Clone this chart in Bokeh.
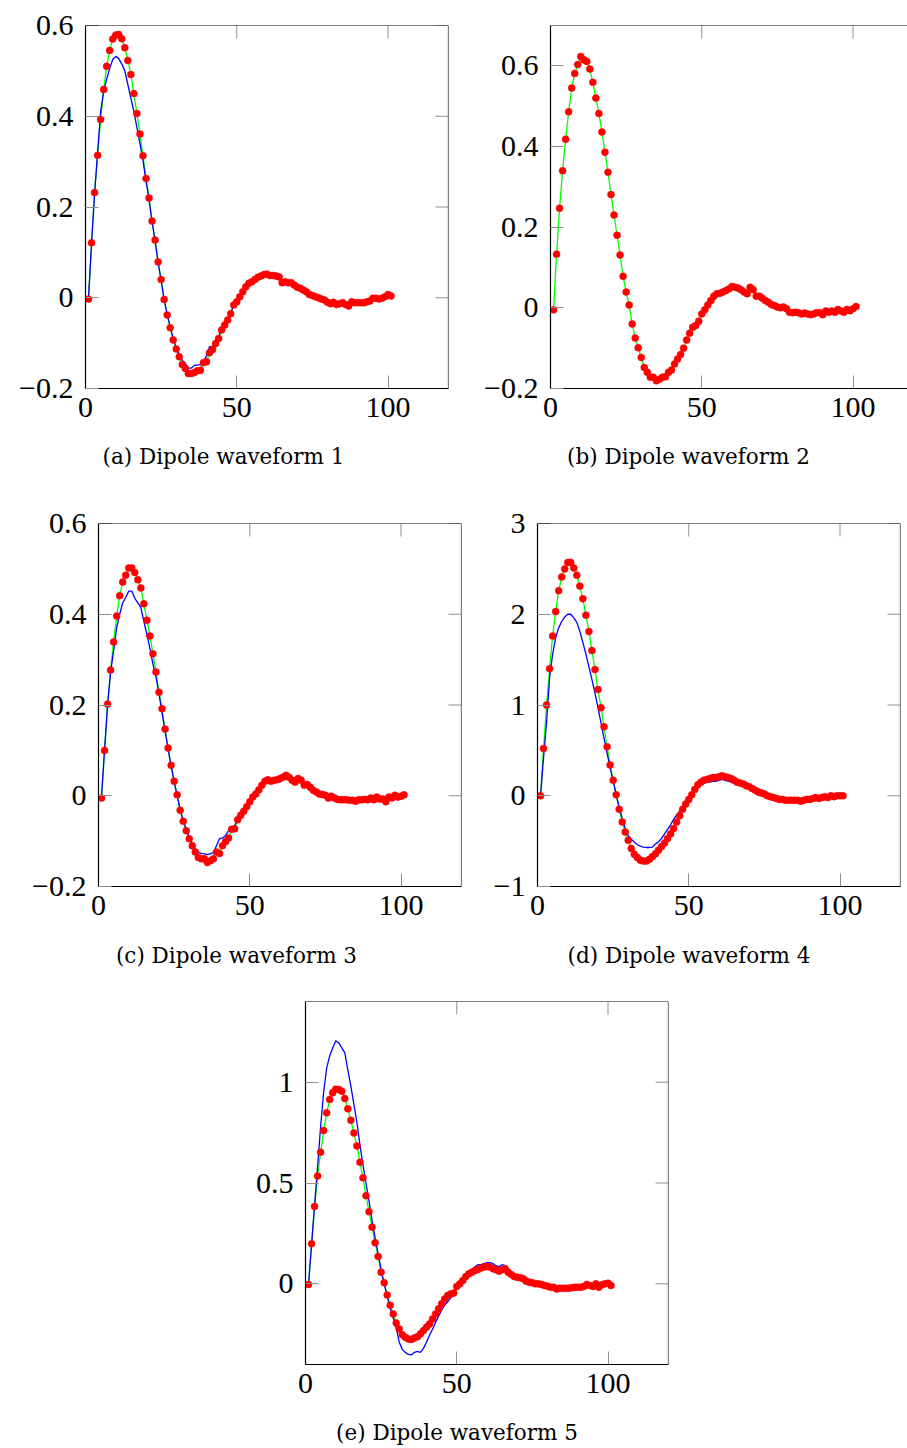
from bokeh.plotting import figure
from bokeh.layouts import column, row, Spacer
from bokeh.models import (Range1d, FixedTicker, LinearAxis, Span,
                          CustomJSTickFormatter, ColumnDataSource)
from bokeh.core.properties import value
from bokeh.embed import file_html
from bokeh.resources import INLINE

# ---------------- data ----------------
samples = list(range(1, 102))

red_1 = [
    -0.003, 0.121, 0.232, 0.314, 0.393, 0.459, 0.510, 0.545, 0.570, 0.579,
    0.580, 0.571, 0.551, 0.523, 0.492, 0.450, 0.406, 0.361, 0.313, 0.263,
    0.220, 0.169, 0.127, 0.079, 0.040, -0.004, -0.038, -0.066, -0.093, -0.113,
    -0.130, -0.147, -0.156, -0.167, -0.167, -0.165, -0.161, -0.160, -0.143, -0.141,
    -0.121, -0.114, -0.101, -0.090, -0.071, -0.060, -0.049, -0.035, -0.016, -0.009,
    0.002, 0.013, 0.024, 0.032, 0.035, 0.040, 0.045, 0.048, 0.051, 0.052,
    0.049, 0.049, 0.048, 0.046, 0.033, 0.035, 0.033, 0.033, 0.028, 0.023,
    0.021, 0.017, 0.013, 0.007, 0.005, 0.002, 0.000, -0.003, -0.005, -0.010,
    -0.013, -0.010, -0.015, -0.013, -0.011, -0.015, -0.018, -0.009, -0.011, -0.011,
    -0.011, -0.011, -0.009, -0.007, -0.001, -0.001, -0.003, -0.001, 0.002, 0.007,
    0.004]
blue_1 = [
    0.000, 0.120, 0.228, 0.320, 0.410, 0.455, 0.482, 0.505, 0.525, 0.532,
    0.527, 0.515, 0.500, 0.470, 0.440, 0.410, 0.375, 0.340, 0.302, 0.258,
    0.216, 0.168, 0.125, 0.078, 0.038, -0.004, -0.036, -0.064, -0.090, -0.110,
    -0.125, -0.138, -0.145, -0.155, -0.155, -0.149, -0.148, -0.148, -0.140, -0.128,
    -0.108, -0.108, -0.095, -0.085, -0.070, -0.058, -0.047, -0.033, -0.017, -0.008,
    0.003, 0.014, 0.025, 0.032, 0.036, 0.040, 0.044, 0.046, 0.048, 0.047,
    0.043, 0.046, 0.046, 0.044, 0.034, 0.035, 0.031, 0.033, 0.027, 0.023,
    0.021, 0.017, 0.013, 0.008, 0.005, 0.002, 0.000, -0.003, -0.006, -0.010,
    -0.012, -0.011, -0.014, -0.013, -0.012, -0.015, -0.017, -0.010, -0.011, -0.011,
    -0.011, -0.010, -0.009, -0.007, -0.002, -0.001, -0.003, -0.001, 0.002, 0.006,
    0.004]

red_2 = [
    -0.005, 0.133, 0.247, 0.340, 0.418, 0.486, 0.545, 0.581, 0.603, 0.623,
    0.615, 0.611, 0.592, 0.559, 0.520, 0.482, 0.436, 0.386, 0.336, 0.281,
    0.230, 0.180, 0.131, 0.078, 0.039, 0.007, -0.040, -0.075, -0.099, -0.123,
    -0.148, -0.160, -0.172, -0.172, -0.181, -0.177, -0.172, -0.171, -0.160, -0.154,
    -0.139, -0.127, -0.116, -0.100, -0.080, -0.063, -0.048, -0.044, -0.033, -0.015,
    -0.005, 0.007, 0.018, 0.029, 0.035, 0.036, 0.039, 0.043, 0.047, 0.053,
    0.051, 0.049, 0.045, 0.039, 0.035, 0.051, 0.045, 0.029, 0.029, 0.024,
    0.018, 0.014, 0.008, 0.006, 0.002, 0.000, 0.002, -0.002, -0.011, -0.012,
    -0.011, -0.012, -0.015, -0.013, -0.015, -0.017, -0.015, -0.012, -0.012, -0.017,
    -0.008, -0.011, -0.008, -0.011, -0.004, -0.008, -0.011, -0.004, -0.007, -0.002,
    0.003]

red_3 = [
    -0.005, 0.100, 0.202, 0.277, 0.339, 0.396, 0.441, 0.471, 0.486, 0.502,
    0.502, 0.492, 0.476, 0.458, 0.423, 0.387, 0.352, 0.313, 0.273, 0.228,
    0.192, 0.147, 0.105, 0.067, 0.032, 0.002, -0.032, -0.056, -0.077, -0.095,
    -0.110, -0.124, -0.136, -0.139, -0.139, -0.147, -0.143, -0.139, -0.124, -0.127,
    -0.110, -0.101, -0.093, -0.074, -0.073, -0.053, -0.043, -0.034, -0.024, -0.013,
    -0.003, 0.004, 0.013, 0.023, 0.032, 0.035, 0.032, 0.034, 0.035, 0.038,
    0.041, 0.045, 0.041, 0.034, 0.030, 0.038, 0.034, 0.023, 0.025, 0.019,
    0.012, 0.008, 0.004, 0.003, 0.001, -0.005, -0.001, -0.005, -0.008, -0.009,
    -0.009, -0.009, -0.010, -0.010, -0.012, -0.009, -0.009, -0.008, -0.009, -0.005,
    -0.009, -0.003, -0.007, -0.007, -0.013, -0.003, -0.005, 0.001, -0.003, -0.001,
    0.002]
blue_3 = [
    0.000, 0.100, 0.200, 0.272, 0.320, 0.370, 0.400, 0.425, 0.437, 0.451,
    0.451, 0.435, 0.425, 0.415, 0.384, 0.355, 0.325, 0.290, 0.262, 0.225,
    0.182, 0.143, 0.103, 0.066, 0.031, 0.001, -0.031, -0.054, -0.074, -0.092,
    -0.106, -0.118, -0.125, -0.127, -0.128, -0.130, -0.128, -0.125, -0.110, -0.095,
    -0.093, -0.088, -0.077, -0.070, -0.066, -0.052, -0.042, -0.033, -0.023, -0.012,
    -0.003, 0.004, 0.013, 0.022, 0.030, 0.033, 0.031, 0.032, 0.032, 0.030,
    0.037, 0.043, 0.040, 0.033, 0.030, 0.036, 0.033, 0.023, 0.025, 0.019,
    0.012, 0.008, 0.004, 0.003, 0.001, -0.004, -0.001, -0.005, -0.008, -0.009,
    -0.009, -0.009, -0.010, -0.010, -0.011, -0.009, -0.009, -0.008, -0.009, -0.005,
    -0.008, -0.004, -0.007, -0.007, -0.012, -0.003, -0.005, 0.001, -0.003, -0.001,
    0.002]

red_4 = [
    0.00, 0.52, 1.00, 1.40, 1.76, 2.03, 2.26, 2.41, 2.50, 2.57,
    2.57, 2.51, 2.43, 2.31, 2.17, 1.99, 1.81, 1.60, 1.39, 1.17,
    0.97, 0.76, 0.54, 0.34, 0.17, 0.01, -0.15, -0.29, -0.40, -0.49,
    -0.58, -0.645, -0.68, -0.71, -0.72, -0.72, -0.70, -0.67, -0.64, -0.60,
    -0.56, -0.52, -0.47, -0.42, -0.36, -0.29, -0.22, -0.15, -0.09, -0.04,
    0.01, 0.07, 0.12, 0.15, 0.17, 0.18, 0.19, 0.20, 0.20, 0.21,
    0.22, 0.21, 0.20, 0.19, 0.17, 0.15, 0.14, 0.13, 0.11, 0.10,
    0.08, 0.06, 0.04, 0.03, 0.02, 0.00, -0.01, -0.02, -0.03, -0.04,
    -0.04, -0.05, -0.05, -0.05, -0.05, -0.05, -0.06, -0.05, -0.04, -0.04,
    -0.03, -0.02, -0.03, -0.02, -0.01, -0.02, 0.00, -0.01, 0.00, 0.00,
    0.00]
blue_4 = [
    0.00, 0.42, 0.81, 1.30, 1.56, 1.74, 1.85, 1.92, 1.97, 2.00,
    2.00, 1.96, 1.91, 1.81, 1.69, 1.56, 1.42, 1.28, 1.13, 0.97,
    0.80, 0.63, 0.47, 0.31, 0.16, 0.02, -0.13, -0.25, -0.36, -0.44,
    -0.48, -0.51, -0.54, -0.555, -0.565, -0.57, -0.57, -0.565, -0.53, -0.51,
    -0.47, -0.42, -0.37, -0.32, -0.26, -0.21, -0.17, -0.12, -0.07, -0.03,
    0.01, 0.05, 0.09, 0.12, 0.14, 0.15, 0.15, 0.16, 0.16, 0.17,
    0.18, 0.17, 0.16, 0.15, 0.14, 0.13, 0.12, 0.11, 0.10, 0.09,
    0.08, 0.06, 0.04, 0.03, 0.02, 0.00, -0.01, -0.02, -0.03, -0.04,
    -0.04, -0.05, -0.05, -0.05, -0.05, -0.05, -0.06, -0.05, -0.04, -0.04,
    -0.03, -0.02, -0.03, -0.02, -0.01, -0.02, 0.00, -0.01, 0.00, 0.00,
    0.00]

red_5 = [
    -0.003, 0.199, 0.384, 0.535, 0.652, 0.760, 0.848, 0.914, 0.947, 0.965,
    0.964, 0.955, 0.919, 0.868, 0.811, 0.748, 0.684, 0.603, 0.526, 0.437,
    0.358, 0.281, 0.204, 0.136, 0.058, 0.005, -0.055, -0.106, -0.149, -0.194,
    -0.224, -0.253, -0.265, -0.273, -0.276, -0.268, -0.262, -0.248, -0.232, -0.215,
    -0.199, -0.174, -0.149, -0.124, -0.099, -0.075, -0.058, -0.050, -0.046, -0.013,
    0.000, 0.017, 0.036, 0.050, 0.058, 0.066, 0.071, 0.078, 0.083, 0.086,
    0.083, 0.075, 0.070, 0.063, 0.070, 0.075, 0.058, 0.046, 0.036, 0.033,
    0.030, 0.025, 0.013, 0.008, 0.005, 0.000, 0.000, -0.003, -0.008, -0.012,
    -0.017, -0.017, -0.025, -0.022, -0.022, -0.022, -0.022, -0.020, -0.017, -0.017,
    -0.017, -0.013, -0.003, -0.008, -0.013, 0.000, -0.017, -0.005, 0.000, 0.003,
    -0.008]
blue_5 = [
    0.000, 0.190, 0.390, 0.580, 0.780, 0.950, 1.070, 1.130, 1.170, 1.205,
    1.195, 1.170, 1.145, 1.060, 0.980, 0.890, 0.800, 0.690, 0.590, 0.500,
    0.410, 0.315, 0.230, 0.150, 0.070, 0.000, -0.060, -0.120, -0.170, -0.220,
    -0.290, -0.325, -0.340, -0.350, -0.352, -0.340, -0.335, -0.340, -0.320, -0.290,
    -0.255, -0.225, -0.190, -0.160, -0.130, -0.105, -0.090, -0.070, -0.045, -0.025,
    -0.005, 0.015, 0.035, 0.050, 0.065, 0.085, 0.095, 0.095, 0.100, 0.105,
    0.105, 0.100, 0.090, 0.085, 0.095, 0.090, 0.070, 0.050, 0.038, 0.033,
    0.030, 0.025, 0.013, 0.008, 0.005, 0.000, 0.000, -0.003, -0.008, -0.012,
    -0.017, -0.017, -0.025, -0.022, -0.022, -0.022, -0.022, -0.020, -0.017, -0.017,
    -0.017, -0.013, -0.003, -0.008, -0.013, 0.000, -0.017, -0.005, 0.000, 0.003,
    -0.008]

x_ticks = [0, 50, 100]
y_ticks_1 = [-0.2, 0, 0.2, 0.4, 0.6]
y_ticks_2 = [-0.2, 0, 0.2, 0.4, 0.6]
y_ticks_3 = [-0.2, 0, 0.2, 0.4, 0.6]
y_ticks_4 = [-1, 0, 1, 2, 3]
y_ticks_5 = [0, 0.5, 1]

captions = ["(a) Dipole waveform 1", "(b) Dipole waveform 2",
            "(c) Dipole waveform 3", "(d) Dipole waveform 4",
            "(e) Dipole waveform 5"]

# ---------------- styling ----------------
TICK_FONT = "Liberation Serif"
TICK_SIZE = "30px"
CAP_FONT = "DejaVu Serif"
CAP_SIZE = "21.5px"
FRAME = 363
X_FULL = 120.0
TICK_LEN = 13
TICK_COLOR = "#909090"
PLOT_BOTTOM = 50


def minus_formatter():
    return CustomJSTickFormatter(
        code="return (tick < 0 ? '\\u2212' : '') + String(Math.abs(tick));")


def make_axis(ticks, standoff):
    ax = LinearAxis(ticker=FixedTicker(ticks=ticks, minor_ticks=[]),
                    formatter=minus_formatter())
    ax.major_tick_in = TICK_LEN
    ax.major_tick_out = 0
    ax.major_tick_line_color = TICK_COLOR
    ax.major_tick_line_width = 1
    ax.minor_tick_line_color = None
    ax.axis_line_color = "black"
    ax.axis_line_width = 1.2
    ax.major_label_text_font = TICK_FONT
    ax.major_label_text_font_size = TICK_SIZE
    ax.major_label_text_color = "black"
    ax.major_label_standoff = standoff
    return ax


def panel(red, blue, y0, y1, yticks, frame_w, bl, br, bt, right_side=True):
    x1 = X_FULL * frame_w / FRAME
    p = figure(frame_width=frame_w, frame_height=FRAME,
               min_border_left=bl, min_border_right=br,
               min_border_top=bt, min_border_bottom=PLOT_BOTTOM,
               x_range=Range1d(0, x1), y_range=Range1d(y0, y1),
               x_axis_location=None, y_axis_location=None,
               output_backend="svg", toolbar_location=None)
    p.outline_line_color = None
    p.grid.visible = False
    p.background_fill_color = "white"
    p.border_fill_color = "white"

    p.add_layout(make_axis(yticks, 12), "left")
    p.add_layout(make_axis(x_ticks, 9), "below")

    # top (and right) border with inward ticks
    dy = TICK_LEN * (y1 - y0) / FRAME
    dx = TICK_LEN * x1 / frame_w
    p.add_layout(Span(location=y1, dimension="width", line_color="black",
                      line_width=1.2))
    p.segment(x0=x_ticks, y0=[y1] * len(x_ticks), x1=x_ticks,
              y1=[y1 - dy] * len(x_ticks), line_color=TICK_COLOR, line_width=1)
    if right_side:
        p.add_layout(Span(location=x1, dimension="height", line_color="black",
                          line_width=1.2))
        p.segment(x0=[x1] * len(yticks), y0=yticks, x1=[x1 - dx] * len(yticks),
                  y1=yticks, line_color=TICK_COLOR, line_width=1)

    src = ColumnDataSource(dict(x=samples, y=red))
    p.line("x", "y", source=src, line_color="#00ff00", line_width=1.3)
    if blue is not None:
        bsrc = ColumnDataSource(dict(x=samples, y=blue))
        p.line("x", "y", source=bsrc, line_color="#0000ff", line_width=1.3)
    p.scatter("x", "y", source=src, size=7, fill_color="#ff0000",
              line_color="#ff0000", line_width=0.5)
    return p


def caption_fig(text, width, height, frame_left, frame_w, cx, cy_from_top):
    # in a column Bokeh aligns this figure's frame with the plot above it,
    # so the x range spans the same canvas pixels as that frame
    c = figure(width=width, height=height, min_border=0,
               x_range=Range1d(frame_left, frame_left + frame_w),
               y_range=Range1d(0, height),
               x_axis_location=None, y_axis_location=None,
               output_backend="svg", toolbar_location=None)
    c.outline_line_color = None
    c.grid.visible = False
    c.text(x=[cx], y=[height - cy_from_top], text=[text],
           text_align="center", text_baseline="middle",
           text_font=value(CAP_FONT), text_font_size=value(CAP_SIZE),
           text_color="#000000")
    return c


fa = panel(red_1, blue_1, -0.2, 0.6, y_ticks_1, FRAME, 85, 14, 25)
fb = panel(red_2, None, -0.2, 0.7, y_ticks_2, 357, 88, 0, 25, right_side=False)
fc = panel(red_3, blue_3, -0.2, 0.6, y_ticks_3, FRAME, 98, 9, 23)
fd = panel(red_4, blue_4, -1, 3, y_ticks_4, FRAME, 67, 7, 23)
fe = panel(red_5, blue_5, -0.4, 1.4, y_ticks_5, FRAME, 75, 22, 16)

ca = caption_fig(captions[0], 462, 62, 85, FRAME, 223, 18)
cb = caption_fig(captions[1], 445, 62, 88, 357, 226, 18)
cc = caption_fig(captions[2], 470, 49, 98, FRAME, 236, 19)
cd = caption_fig(captions[3], 437, 49, 67, FRAME, 218.5, 19)
ce = caption_fig(captions[4], 460, 32, 75, FRAME, 226.5, 18)

layout = column(
    row(column(fa, ca), column(fb, cb)),
    row(column(fc, cc), column(fd, cd)),
    row(Spacer(width=230, height=10), column(fe, ce)),
)

open("out.html", "w").write(file_html(layout, INLINE))
